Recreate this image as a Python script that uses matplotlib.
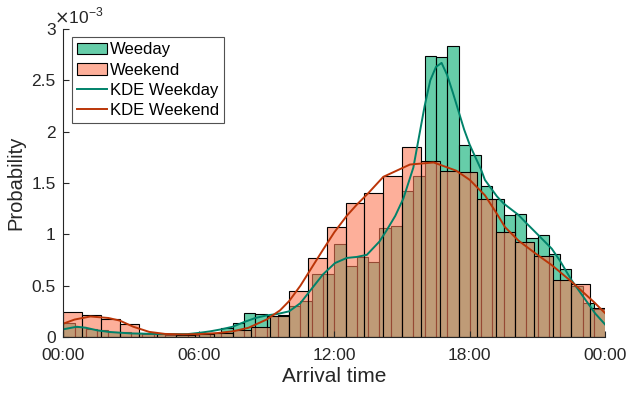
import numpy as np
import matplotlib
matplotlib.use("Agg")
import matplotlib.pyplot as plt
from matplotlib.ticker import FuncFormatter

plt.rcParams['font.family'] = ['Liberation Sans', 'DejaVu Sans']

# histogram heights, in units of 1e-3
weekday_bin_h = 0.5          # hours per weekday bin
weekday = [0.14, 0.10, 0.08, 0.07, 0.05, 0.045, 0.035, 0.03, 0.025, 0.02,
           0.02, 0.02, 0.025, 0.035, 0.09, 0.14, 0.23, 0.22, 0.205, 0.21,
           0.30, 0.35, 0.61, 0.61, 0.91, 0.69, 0.78, 0.73, 1.06, 1.08,
           1.42, 1.57, 2.74, 2.73, 2.83, 1.87, 1.77, 1.47, 1.34, 1.19,
           1.20, 0.96, 0.99, 0.81, 0.665, 0.50, 0.33, 0.27]

weekend_bin_h = 50 / 60      # hours per weekend bin
weekend = [0.24, 0.21, 0.18, 0.13, 0.035, 0.03, 0.02, 0.03, 0.035, 0.07,
           0.10, 0.20, 0.45, 0.77, 1.07, 1.31, 1.40, 1.57, 1.85, 1.71,
           1.62, 1.61, 1.34, 1.02, 0.93, 0.79, 0.555, 0.515, 0.285]

# KDE curves (hour, density e-3)
kde_wd_t = [0, 0.6, 1.0, 1.5, 2.0, 2.5, 3.0, 4.0, 5.0, 5.5, 6.0, 6.5, 7.0, 7.5,
            8.0, 8.5, 9.0, 9.5, 10.0, 10.5, 11.07, 11.5, 12.03, 12.55, 13.0,
            13.44, 14.0, 14.32, 14.7, 15.06, 15.5, 15.75, 16.0, 16.25, 16.5,
            16.75, 17.0, 17.25, 17.5, 17.75, 18.0, 18.5, 18.67, 19.2, 19.5,
            20.15, 20.5, 21.0, 21.63, 22.0, 22.5, 23.0, 23.55, 24.0]
kde_wd = [0.075, 0.10, 0.09, 0.065, 0.05, 0.042, 0.035, 0.03, 0.028, 0.028,
          0.04, 0.055, 0.075, 0.10, 0.145, 0.185, 0.21, 0.225, 0.25, 0.33,
          0.49, 0.61, 0.72, 0.77, 0.78, 0.80, 0.93, 1.04, 1.18, 1.35, 1.65,
          1.95, 2.25, 2.50, 2.63, 2.67, 2.55, 2.38, 2.20, 2.02, 1.87, 1.63,
          1.53, 1.37, 1.30, 1.19, 1.11, 1.00, 0.86, 0.74, 0.555, 0.40, 0.23,
          0.12]

kde_we_t = [0, 0.5, 1.2, 2.0, 2.5, 3.1, 3.8, 4.5, 5.3, 6.0, 6.8, 7.5, 8.2, 9.0,
            9.6, 10.0, 10.5, 11.07, 11.5, 12.0, 12.55, 13.0, 13.5, 14.17,
            15.35, 16.4, 17.4, 18.0, 18.67, 19.2, 19.56, 20.15, 20.9, 21.63,
            22.5, 23.2, 23.5, 24.0]
kde_we = [0.13, 0.17, 0.20, 0.185, 0.16, 0.10, 0.05, 0.03, 0.025, 0.028,
          0.038, 0.055, 0.09, 0.17, 0.26, 0.35, 0.50, 0.70, 0.85, 1.02, 1.18,
          1.29, 1.40, 1.56, 1.68, 1.70, 1.62, 1.53, 1.38, 1.20, 1.07, 0.94,
          0.815, 0.70, 0.54, 0.40, 0.34, 0.23]

xticks = [0, 6, 12, 18, 24]
xticklabels = ['00:00', '06:00', '12:00', '18:00', '00:00']
yticks = [0, 0.5, 1, 1.5, 2, 2.5, 3]

scale = 1e-3
wd_left = np.arange(len(weekday)) * weekday_bin_h
we_left = np.arange(len(weekend)) * weekend_bin_h

fig = plt.figure(figsize=(6.3, 3.96), dpi=100)
ax = fig.add_axes([63.3 / 630, 1 - 337 / 396, (605.3 - 63.3) / 630, (337 - 29) / 396])

b1 = ax.bar(wd_left, np.array(weekday) * scale, width=weekday_bin_h, align='edge',
            facecolor=(0.0, 0.675, 0.443, 0.6), edgecolor='black', linewidth=0.8,
            label='Weeday')
b2 = ax.bar(we_left, np.array(weekend) * scale, width=weekend_bin_h, align='edge',
            facecolor=(0.988, 0.482, 0.341, 0.6), edgecolor='black', linewidth=0.8,
            label='Weekend')
l1, = ax.plot(kde_wd_t, np.array(kde_wd) * scale, color='#00826a', lw=1.4,
              label='KDE Weekday')
l2, = ax.plot(kde_we_t, np.array(kde_we) * scale, color='#bb3508', lw=1.4,
              label='KDE Weekend')

ax.set_xlim(0, 24)
ax.set_ylim(0, 3 * scale)
ax.set_xticks(xticks)
ax.set_xticklabels(xticklabels)
ax.set_yticks([v * scale for v in yticks])
ax.yaxis.set_major_formatter(FuncFormatter(lambda v, p: f'{v / scale:g}'))

for s in ['top', 'right']:
    ax.spines[s].set_visible(False)
for s in ['left', 'bottom']:
    ax.spines[s].set_color('#262626')
    ax.spines[s].set_linewidth(0.8)
ax.tick_params(direction='in', length=4, width=0.8, colors='#262626',
               labelsize=12.5)
ax.tick_params(axis='x', pad=8)
ax.tick_params(axis='y', pad=5.5)

ax.set_xlabel('Arrival time', fontsize=15, color='#262626', labelpad=3)
ax.set_ylabel('Probability', fontsize=14.5, color='#262626', labelpad=4)
fig.text(54 / 630, 1 - 26 / 396, r'$\times$10$^{\mathregular{-3}}$', fontsize=12.5,
         color='#262626', ha='left', va='bottom')

leg = ax.legend([b1, b2, l1, l2], ['Weeday', 'Weekend', 'KDE Weekday', 'KDE Weekend'],
                loc='upper left', fontsize=12, frameon=True, fancybox=False,
                edgecolor='#262626', borderaxespad=0.5, handlelength=1.8,
                handletextpad=0.2, labelspacing=0.32, borderpad=0.3)
leg.get_frame().set_linewidth(0.8)

fig.savefig('out.png', dpi=100)
